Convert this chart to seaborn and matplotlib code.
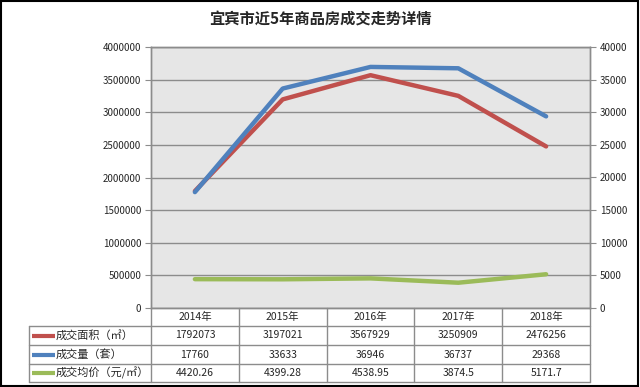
import numpy as np
import pandas as pd
import seaborn as sns
import matplotlib.pyplot as plt
from matplotlib.patches import Rectangle

sns.set_style("white")
plt.rcParams['font.family'] = ['Noto Sans CJK SC', 'DejaVu Sans']

# data
years = ["2014年", "2015年", "2016年", "2017年", "2018年"]
area = [1792073, 3197021, 3567929, 3250909, 2476256]
deals = [17760, 33633, 36946, 36737, 29368]
price = [4420.26, 4399.28, 4538.95, 3874.5, 5171.7]
price_txt = ["4420.26", "4399.28", "4538.95", "3874.5", "5171.7"]
series_names = ["成交面积（㎡）", "成交量（套）", "成交均价（元/㎡）"]
colors = ["#C0504D", "#4F81BD", "#9BBB59"]

W, H = 640, 387
fig = plt.figure(figsize=(W / 100, H / 100), dpi=100)

def fx(px):
    return px / W

def fy(py):
    return 1 - py / H

L, R, T, B = 151, 590, 47, 308
ax = fig.add_axes([fx(L), fy(B), fx(R) - fx(L), fy(T) - fy(B)])
ax2 = ax.twinx()

df = pd.DataFrame({"x": np.arange(len(years)), "area": area, "deals": deals, "price": price})

sns.lineplot(data=df, x="x", y="area", ax=ax, color=colors[0], lw=3.2, zorder=3)
sns.lineplot(data=df, x="x", y="deals", ax=ax2, color=colors[1], lw=3.2, zorder=4)
sns.lineplot(data=df, x="x", y="price", ax=ax2, color=colors[2], lw=3.2, zorder=4)

ax.set_facecolor("#E6E6E6")
ax.set_xlim(-0.5, len(years) - 0.5)
ax.set_ylim(0, 4000000)
ax2.set_ylim(0, 40000)
ax.set_yticks(np.arange(0, 4000001, 500000))
ax2.set_yticks(np.arange(0, 40001, 5000))
ax.set_yticklabels([str(v) for v in range(0, 4000001, 500000)])
ax2.set_yticklabels([str(v) for v in range(0, 40001, 5000)])
ax.yaxis.grid(True, color="#8C8C8C", lw=1)
ax.set_axisbelow(True)
ax.set_xticks([])
ax2.set_xticks([])
ax.set_xlabel("")
ax.set_ylabel("")
ax2.set_ylabel("")
for a in (ax, ax2):
    for s in a.spines.values():
        s.set_color("#8C8C8C")
        s.set_linewidth(1)
ax.tick_params(axis="y", labelsize=7, length=4, color="#8C8C8C", pad=3, direction="out", left=True)
ax2.tick_params(axis="y", labelsize=7, length=4, color="#8C8C8C", pad=3, direction="out", right=True)

fig.text(0.5, fy(20), "宜宾市近5年商品房成交走势详情", ha="center", va="center",
         fontsize=11, fontweight="bold")

# data table
TL, TB = 29, 382
tax = fig.add_axes([fx(TL), fy(TB), fx(R) - fx(TL), fy(B) - fy(TB)])
tax.set_xlim(TL, R)
tax.set_ylim(TB, B)
tax.axis("off")
rows = [B, 326, 345, 364, 382]
colw = (R - L) / len(years)
cols = [L + colw * i for i in range(len(years) + 1)]
lc = "#8C8C8C"
for yv in rows[1:]:
    tax.plot([TL, R], [yv, yv], color=lc, lw=1, clip_on=False)
for xv in cols:
    tax.plot([xv, xv], [B, TB], color=lc, lw=1, clip_on=False)
tax.plot([TL, TL], [rows[1], TB], color=lc, lw=1, clip_on=False)

for i, yr in enumerate(years):
    cx = cols[i] + colw / 2
    tax.text(cx, (rows[0] + rows[1]) / 2, yr, ha="center", va="center", fontsize=7.5)
table_vals = [[str(v) for v in area], [str(v) for v in deals], price_txt]
for r in range(3):
    cy = (rows[r + 1] + rows[r + 2]) / 2
    tax.plot([32, 55], [cy, cy], color=colors[r], lw=3, solid_capstyle="butt", clip_on=False)
    tax.text(56, cy, series_names[r], ha="left", va="center", fontsize=8)
    for i in range(len(years)):
        tax.text(cols[i] + colw / 2, cy, table_vals[r][i], ha="center", va="center", fontsize=7.5)

fig.patches.append(Rectangle((0.002, 0.003), 0.995, 0.994, transform=fig.transFigure,
                             fill=False, edgecolor="black", lw=1.5))

fig.savefig("out.png", dpi=100)
